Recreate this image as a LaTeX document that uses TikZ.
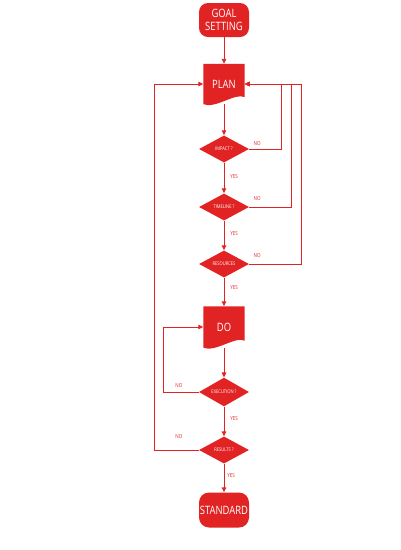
\documentclass[tikz,border=0pt]{standalone}
\usepackage{fontspec}
\setmainfont{Open Sans}[FakeStretch=0.82]
\usetikzlibrary{shapes.geometric,arrows.meta,backgrounds}
\definecolor{flowred}{RGB}{226,35,35}

\begin{document}
\begin{tikzpicture}[x=1pt, y=-1pt,
	term/.style={rectangle, rounded corners=9pt, fill=flowred, text=white, minimum width=50pt, minimum height=34pt, inner sep=0pt, align=center, font=\fontsize{11.5}{13.5}\selectfont},
	doc/.style={rectangle, minimum width=41pt, minimum height=40pt, inner sep=0pt, text=white, font=\fontsize{11.5}{13.5}\selectfont},
	test/.style={diamond, fill=flowred, text=white, minimum width=50pt, minimum height=27pt, inner sep=0pt, font=\fontsize{5}{6}\selectfont},
	flow/.style={draw=flowred, line width=0.9pt, -{Triangle[length=5pt, width=4.5pt]}},
	lbl/.style={text=flowred, inner sep=0pt, font=\fontsize{5.5}{6.5}\selectfont}]
	
	\useasboundingbox (0,0) rectangle (400,550);
	
	% Nodes
	\node[term] (goal) at (224,20) {GOAL\\SETTING};
	\node[doc] (plan) at (224,84) {PLAN};
	\node[test] (impact) at (224,149) {IMPACT ?};
	\node[test] (timeline) at (224,207) {TIMELINE ?};
	\node[test] (resources) at (224,264) {RESOURCES};
	\node[doc, minimum height=41pt] (do) at (224,327) {DO};
	\node[test] (execution) at (224,392) {EXECUTION ?};
	\node[test] (results) at (224,450) {RESULTS ?};
	\node[term, rounded corners=10pt, minimum height=35pt] (standard) at (224,510) {STANDARD};
	
	% Document shapes
	\begin{scope}[on background layer]
		\fill[flowred] (plan.north west) -- (plan.north east) -- ([yshift=7pt]plan.south east)
			.. controls +(-9,-5) and +(12,5) .. (plan.south west) -- cycle;
		\fill[flowred] (do.north west) -- (do.north east) -- ([yshift=7pt]do.south east)
			.. controls +(-9,-5) and +(12,5) .. (do.south west) -- cycle;
	\end{scope}
	
	% Turning points
	\coordinate (r1) at (281,84);
	\coordinate (r2) at (291,84);
	\coordinate (r3) at (301,84);
	\coordinate (l1) at (154,84);
	\coordinate (l2) at (163,327);
	
	% Edges
	\draw[flow] (goal) -- (plan);
	\draw[flow] (plan) -- (impact);
	\draw[flow] (impact) -- node[lbl, anchor=west, xshift=6pt, pos=0.45] {YES} (timeline);
	\draw[flow] (timeline) -- node[lbl, anchor=west, xshift=6pt, pos=0.45] {YES} (resources);
	\draw[flow] (resources) -- node[lbl, anchor=west, xshift=6pt, pos=0.35] {YES} (do);
	\draw[flow] (do) -- (execution);
	\draw[flow] (execution) -- node[lbl, anchor=west, xshift=6pt, pos=0.4] {YES} (results);
	\draw[flow] (results) -- node[lbl, anchor=west, xshift=3pt, pos=0.4] {YES} (standard);
	
	\draw[flow] (impact.east) node[lbl, anchor=south west, xshift=4pt, yshift=3.5pt] {NO} -| (r1) -- (plan.east);
	\draw[flow] (timeline.east) node[lbl, anchor=south west, xshift=4pt, yshift=6pt] {NO} -| (r2) -- (plan.east);
	\draw[flow] (resources.east) node[lbl, anchor=south west, xshift=4pt, yshift=6pt] {NO} -| (r3) -- (plan.east);
	
	\draw[flow] (execution.west) node[lbl, anchor=south east, xshift=-16pt, yshift=4pt] {NO} -| (l2) -- (do.west);
	\draw[flow] (results.west) node[lbl, anchor=south east, xshift=-16pt, yshift=11pt] {NO} -| (l1) -- (plan.west);
	
\end{tikzpicture}
\end{document}
